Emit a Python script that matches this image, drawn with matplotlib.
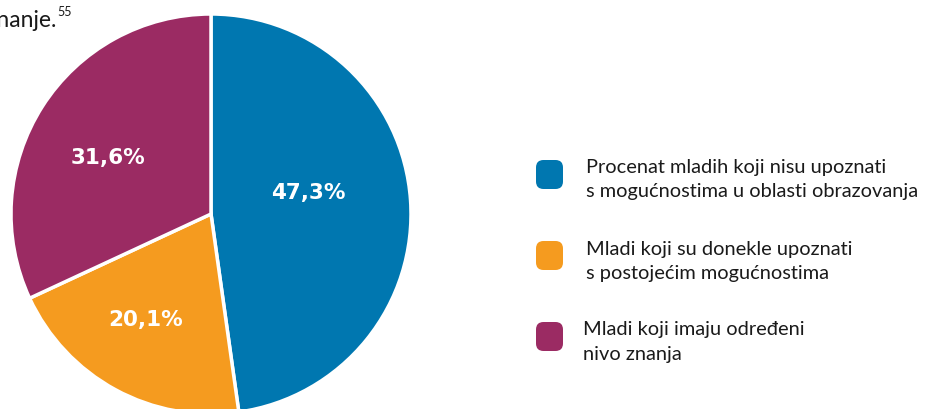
import matplotlib.pyplot as plt
from matplotlib.patches import FancyBboxPatch

shares = [47.3, 20.1, 31.6]
pct_labels = ['47,3%', '20,1%', '31,6%']
colors = ['#0077b0', '#f59b1f', '#9b2b63']
legend_lines = [
    ['Procenat mladih koji nisu upoznati', 's mogućnostima u oblasti obrazovanja'],
    ['Mladi koji su donekle upoznati', 's postojećim mogućnostima'],
    ['Mladi koji imaju određeni', 'nivo znanja'],
]

plt.rcParams['font.family'] = ['Lato', 'DejaVu Sans']

W, H = 939, 410
fig = plt.figure(figsize=(W / 100, H / 100), dpi=100)

# pie axes placed in pixel terms (center ~ (211, 215), radius ~200)
cx, cy, r = 211, 215, 200
ax = fig.add_axes([(cx - r) / W, (H - cy - r) / H, 2 * r / W, 2 * r / H])
wedges, _ = ax.pie(shares, colors=colors, startangle=90, counterclock=False,
                   radius=1, wedgeprops=dict(edgecolor='white', linewidth=2.5))
ax.set_xlim(-1, 1)
ax.set_ylim(-1, 1)
ax.axis('off')

# percentage labels (pixel positions)
label_pos = [(308, 193), (146, 320), (108, 158)]
for (px, py), txt in zip(label_pos, pct_labels):
    fig.text(px / W, 1 - py / H, txt, color='white', fontsize=15.5, fontweight='bold',
             family='DejaVu Sans', ha='center', va='center')

# legend
sq_top = [161, 242, 323]
text_x = [586, 586, 583]
baselines = [(173, 197), (255, 279), (335, 360)]
for i in range(3):
    box = FancyBboxPatch((536 / W, 1 - (sq_top[i] + 29) / H), 27 / W, 29 / H,
                         boxstyle='round,pad=0,rounding_size=0.008',
                         transform=fig.transFigure, facecolor=colors[i],
                         edgecolor='none', mutation_aspect=W / H)
    fig.patches.append(box)
    for line, b in zip(legend_lines[i], baselines[i]):
        fig.text(text_x[i] / W, 1 - b / H, line, fontsize=14.4, color='#1a1a1a',
                 ha='left', va='baseline')

# cut-off paragraph text at top-left
fig.text(-14 / W, 1 - 27 / H, 'znanje.', fontsize=16.5, color='#1a1a1a', va='baseline')
fig.text(57 / W, 1 - 16 / H, '55', fontsize=9, color='#1a1a1a', va='baseline')

fig.savefig('out.png', dpi=100)
